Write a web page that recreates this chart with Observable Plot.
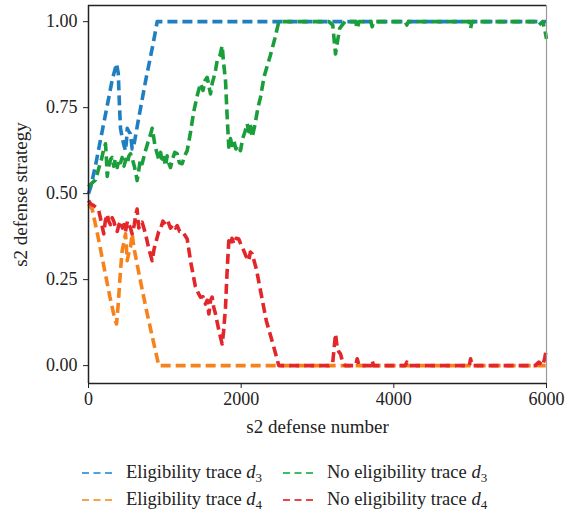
<!DOCTYPE html>
<html><head><meta charset="utf-8">
<script src="https://cdn.jsdelivr.net/npm/d3@7"></script>
<script src="https://cdn.jsdelivr.net/npm/@observablehq/plot@0.6"></script>
<style>
body{margin:0;background:#fff;font-family:"Liberation Serif","Times New Roman",Times,"DejaVu Serif",serif;}
#wrap{position:relative;width:566px;height:517px;}
.leg{position:absolute;font-size:18.5px;color:#222;white-space:nowrap;line-height:20px;font-family:"Liberation Serif","Times New Roman",Times,"DejaVu Serif",serif;}
.sw{position:absolute;}
sub{font-size:13px;vertical-align:-4px;line-height:0;}
svg text{font-family:"Liberation Serif","Times New Roman",Times,"DejaVu Serif",serif;}
</style></head><body>
<div id="wrap"></div>
<script>
const xTicks = [0, 2000, 4000, 6000];
const yTicks = [0, 0.25, 0.5, 0.75, 1];
const seriesNames = ["Eligibility trace d3", "Eligibility trace d4", "No eligibility trace d3", "No eligibility trace d4"];
const seriesColors = ["#1f7fc1", "#f7821c", "#1a9e3b", "#e2262a"];

const eligD3 = [[0,0.50],[30,0.52],[90,0.58],[160,0.66],[240,0.75],[310,0.83],[367,0.878],[390,0.85],[405,0.76],[419,0.69],[441,0.663],[465,0.64],[485,0.625],[500,0.66],[507,0.69],[530,0.68],[550,0.674],[572,0.63],[594,0.64],[650,0.71],[750,0.83],[850,0.94],[900,1.0],[6000,1.0]];
const eligD4 = [[0,0.47],[48,0.455],[120,0.38],[200,0.29],[280,0.20],[340,0.14],[367,0.121],[390,0.18],[419,0.276],[441,0.334],[465,0.36],[485,0.383],[500,0.33],[507,0.305],[530,0.33],[550,0.344],[572,0.383],[594,0.344],[650,0.28],[750,0.17],[850,0.07],[921,0.0],[6000,0]];
const noEligD3 = [[0,0.52],[40,0.53],[92,0.54],[130,0.57],[170,0.60],[200,0.63],[223,0.645],[235,0.60],[245,0.55],[265,0.58],[290,0.60],[310,0.605],[330,0.58],[350,0.60],[376,0.576],[400,0.60],[420,0.59],[441,0.605],[465,0.58],[490,0.60],[507,0.587],[530,0.61],[550,0.616],[575,0.60],[600,0.58],[620,0.56],[637,0.538],[660,0.57],[680,0.60],[703,0.587],[740,0.62],[780,0.65],[810,0.67],[834,0.69],[850,0.67],[870,0.64],[900,0.616],[920,0.60],[945,0.62],[965,0.59],[987,0.605],[1010,0.58],[1030,0.61],[1050,0.59],[1074,0.576],[1100,0.60],[1130,0.62],[1162,0.616],[1190,0.59],[1227,0.587],[1260,0.61],[1293,0.625],[1330,0.67],[1380,0.74],[1430,0.79],[1467,0.82],[1500,0.80],[1530,0.83],[1555,0.838],[1580,0.81],[1598,0.79],[1620,0.82],[1642,0.838],[1665,0.86],[1686,0.887],[1720,0.90],[1751,0.93],[1770,0.88],[1795,0.828],[1815,0.73],[1838,0.635],[1860,0.66],[1880,0.64],[1904,0.654],[1930,0.63],[1960,0.64],[1991,0.625],[2020,0.66],[2050,0.68],[2079,0.703],[2100,0.68],[2120,0.70],[2144,0.664],[2180,0.70],[2220,0.75],[2253,0.78],[2300,0.84],[2380,0.90],[2440,0.95],[2493,1.0],[3150,1.0],[3200,0.99],[3236,0.906],[3260,0.94],[3290,0.98],[3323,0.99],[3360,1.0],[3500,1.0],[3520,0.98],[3545,1.0],[3700,1.0],[3716,0.985],[3735,1.0],[4150,1.0],[4170,0.99],[4190,1.0],[4990,1.0],[5005,0.98],[5025,1.0],[5850,1.0],[5900,0.99],[5950,1.0],[5975,0.98],[6000,0.95]];
const noEligD4 = [[0,0.48],[30,0.47],[70,0.465],[100,0.46],[135,0.45],[165,0.42],[200,0.383],[220,0.42],[245,0.44],[265,0.42],[288,0.41],[310,0.43],[331,0.42],[355,0.40],[376,0.39],[400,0.41],[419,0.42],[445,0.40],[465,0.41],[485,0.39],[510,0.42],[528,0.41],[550,0.40],[572,0.383],[600,0.41],[620,0.44],[637,0.455],[650,0.42],[659,0.40],[680,0.41],[703,0.417],[725,0.40],[747,0.383],[790,0.34],[834,0.305],[860,0.34],[900,0.373],[920,0.39],[943,0.397],[975,0.42],[1009,0.41],[1040,0.42],[1074,0.40],[1110,0.41],[1140,0.40],[1162,0.407],[1195,0.39],[1227,0.39],[1260,0.38],[1293,0.368],[1340,0.30],[1400,0.23],[1440,0.21],[1467,0.199],[1500,0.20],[1533,0.179],[1555,0.19],[1577,0.15],[1600,0.19],[1620,0.199],[1640,0.17],[1664,0.15],[1710,0.10],[1751,0.063],[1770,0.10],[1795,0.17],[1815,0.27],[1838,0.363],[1860,0.35],[1880,0.37],[1904,0.354],[1935,0.37],[1969,0.368],[2000,0.35],[2035,0.334],[2060,0.32],[2100,0.305],[2120,0.33],[2144,0.325],[2200,0.28],[2253,0.218],[2330,0.13],[2420,0.06],[2493,0.0],[3150,0],[3200,0.01],[3236,0.092],[3258,0.053],[3280,0.04],[3301,0.034],[3330,0.01],[3360,0],[3500,0],[3520,0.02],[3545,0],[3700,0],[3716,0.015],[3735,0],[4150,0],[4170,0.01],[4190,0],[4990,0],[5005,0.02],[5025,0],[5850,0],[5900,0.01],[5950,0],[5975,0.02],[6000,0.05]];

const allSeries = [eligD3, eligD4, noEligD3, noEligD4];
const font = '"Liberation Serif", "Times New Roman", Times, "DejaVu Serif", serif';

const lineMarks = allSeries.map((s, i) => Plot.line(s, {
  x: d => d[0], y: d => d[1], stroke: seriesColors[i], strokeWidth: 3.6,
  strokeDasharray: "10,5", strokeLinecap: "butt", strokeLinejoin: "round"
}));

const chart = Plot.plot({
  width: 566, height: 450,
  marginLeft: 88, marginRight: 20, marginTop: 5, marginBottom: 67,
  style: {fontFamily: font, fontSize: "17px", color: "#222", background: "#fff"},
  x: {domain: [0, 6000], ticks: xTicks, tickFormat: d3.format("d"), label: null, tickSize: 5, tickPadding: 4},
  y: {domain: [-0.052, 1.047], ticks: yTicks, tickFormat: d3.format(".2f"), label: null, tickSize: 5, tickPadding: 6},
  marks: [
    ...lineMarks,
    Plot.ruleX([6000], {stroke: "#999", strokeWidth: 1.2}),
    Plot.ruleY([1.047], {stroke: "#222", strokeWidth: 1.5}),
    Plot.ruleY([-0.052], {stroke: "#222", strokeWidth: 1.5}),
    Plot.ruleX([0], {stroke: "#222", strokeWidth: 1.5}),
    Plot.axisX({ticks: xTicks, tickFormat: d3.format("d"), tickSize: 5, tickPadding: 4, fontSize: 18, label: null, fontFamily: font}),
    Plot.axisY({ticks: yTicks, tickFormat: d3.format(".2f"), tickSize: 5, tickPadding: 6, fontSize: 18, label: null, fontFamily: font}),
    Plot.text(["s2 defense number"], {frameAnchor: "bottom", dy: 49, fontSize: 19, fill: "#222", fontFamily: font}),
    Plot.text(["s2 defense strategy"], {frameAnchor: "left", dx: -68, rotate: -90, textAnchor: "middle", fontSize: 19, fill: "#222", fontFamily: font})
  ]
});
const wrap = document.getElementById("wrap");
wrap.appendChild(chart);

const legPos = [[82, 473], [82, 500], [283, 473], [283, 500]];
const legLabels = ["Eligibility trace", "Eligibility trace", "No eligibility trace", "No eligibility trace"];
const legSubs = ["3", "4", "3", "4"];
const legColors = ["#4aa3e0", "#f9a24d", "#3cbf63", "#e8474a"];
legPos.forEach((p, i) => {
  const sw = document.createElementNS("http://www.w3.org/2000/svg", "svg");
  sw.setAttribute("width", 34); sw.setAttribute("height", 6);
  sw.setAttribute("class", "sw");
  sw.style.left = p[0] + "px"; sw.style.top = (p[1] - 3) + "px";
  sw.innerHTML = `<line x1="0" x2="34" y1="3" y2="3" stroke="${legColors[i]}" stroke-width="2" stroke-dasharray="7,4.5"/>`;
  wrap.appendChild(sw);
  const t = document.createElement("div");
  t.className = "leg";
  t.style.left = (p[0] + 44) + "px"; t.style.top = (p[1] - 11) + "px";
  t.innerHTML = `${legLabels[i]} <i>d</i><sub>${legSubs[i]}</sub>`;
  wrap.appendChild(t);
});
</script>
</body></html>
